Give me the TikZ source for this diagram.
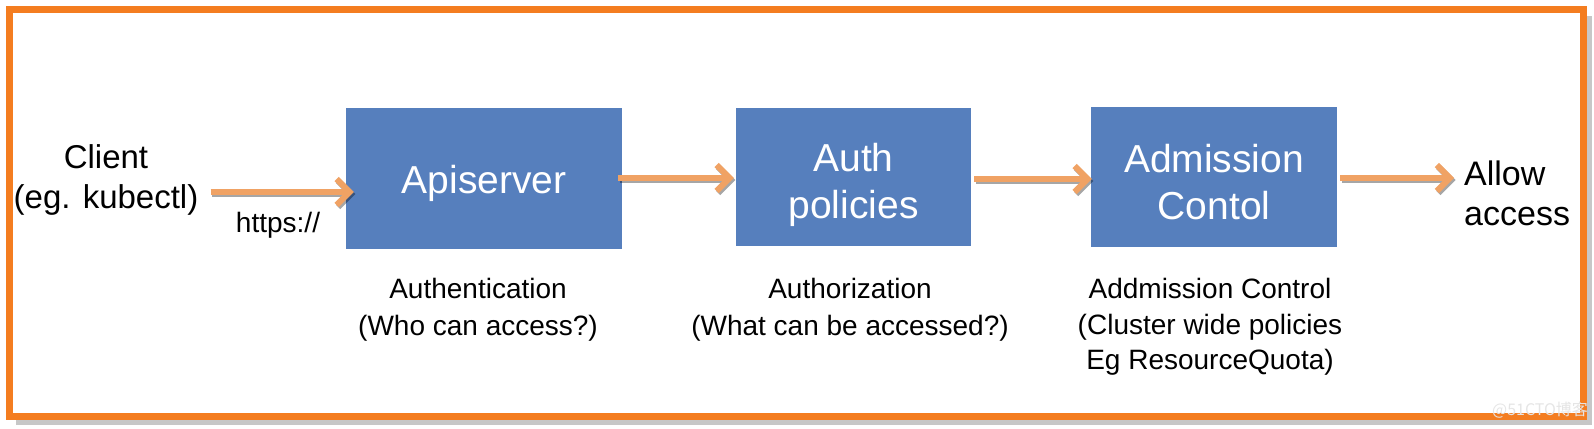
\documentclass[tikz,border=0pt]{standalone}
\usepackage{fontspec}
\setmainfont{Liberation Sans}
\newfontfamily\cjk{Noto Sans CJK SC}
\usetikzlibrary{arrows.meta}
\definecolor{boxblue}{RGB}{86,127,189}
\definecolor{frameorange}{RGB}{244,125,32}
\definecolor{arroworange}{RGB}{240,162,100}
\begin{document}
\begin{tikzpicture}[x=1pt,y=-1pt,
  stage/.style={fill=boxblue,inner sep=0pt},
  stagelbl/.style={text=white,align=center,inner sep=0pt,yshift=-6pt,
    font=\fontsize{39}{47}\selectfont},
  bigtxt/.style={text=black,inner sep=0pt,font=\fontsize{33}{40}\selectfont},
  smalltxt/.style={text=black,align=center,inner sep=0pt,font=\fontsize{28}{36.5}\selectfont},
  flow/.style={draw=arroworange,line width=6pt,
    -{Straight Barb[length=13pt,width=26pt]},
    preaction={draw=black,draw opacity=0.35,line width=6pt,
      transform canvas={shift={(1.5pt,-2pt)}}}}]
\useasboundingbox (0,0) rectangle (1594,428);
% frame with shadow
\draw[black!22,line width=6pt] (16,422) -- (1589,422) -- (1589,16);
\draw[frameorange,line width=7pt] (9.5,10) rectangle (1583.5,416.5);
\node[font=\cjk\fontsize{16}{16}\selectfont,text=white!80!gray,inner sep=0pt] (wm) at (1540,410) {@51CTO博客};
% stages
\node[stage,minimum width=276pt,minimum height=141pt,
  label={[stagelbl]center:{\strut Apiserver}}] (api) at (484,178) {};
\node[stage,minimum width=235pt,minimum height=138pt,
  label={[stagelbl,yshift=-3pt]center:{\strut Auth\\\strut policies}}] (auth) at (853.5,177) {};
\node[stage,minimum width=246pt,minimum height=140pt,
  label={[stagelbl,yshift=-3.5pt]center:{\strut Admission\\\strut Contol}}] (adm) at (1214,177) {};
% side texts
\node[bigtxt,align=center] (client) at (106,180) {Client\\(eg. kubectl)};
\node[bigtxt,align=left,anchor=west,font=\fontsize{34}{40}\selectfont] (allow) at (1464,193) {Allow\\access};
\node[text=black,inner sep=0pt,font=\fontsize{28}{28}\selectfont] (https) at (278,225) {https://};
% captions
\node[smalltxt] (c1) at (478,310) {Authentication\\(Who can access?)};
\node[smalltxt] (c2) at (850,310) {Authorization\\(What can be accessed?)};
\node[smalltxt,font=\fontsize{28}{35.5}\selectfont] (c3) at (1210,327) {Addmission Control\\(Cluster wide policies\\Eg ResourceQuota)};
% connectors
\draw[flow,shorten <=12pt,shorten >=-8pt] ([yshift=-12pt]client.east) -- ([yshift=-12pt]client.east -| api.west);
\draw[flow,shorten <=-4pt,shorten >=2pt] (api.east) -- (api.east -| auth.west);
\draw[flow,shorten <=3pt,shorten >=-1pt] ([yshift=-2pt]auth.east) -- ([yshift=-2pt]auth.east -| adm.west);
\draw[flow,shorten <=3pt,shorten >=10pt] ([yshift=-1pt]adm.east) -- ([yshift=-1pt]adm.east -| allow.west);
\end{tikzpicture}
\end{document}
